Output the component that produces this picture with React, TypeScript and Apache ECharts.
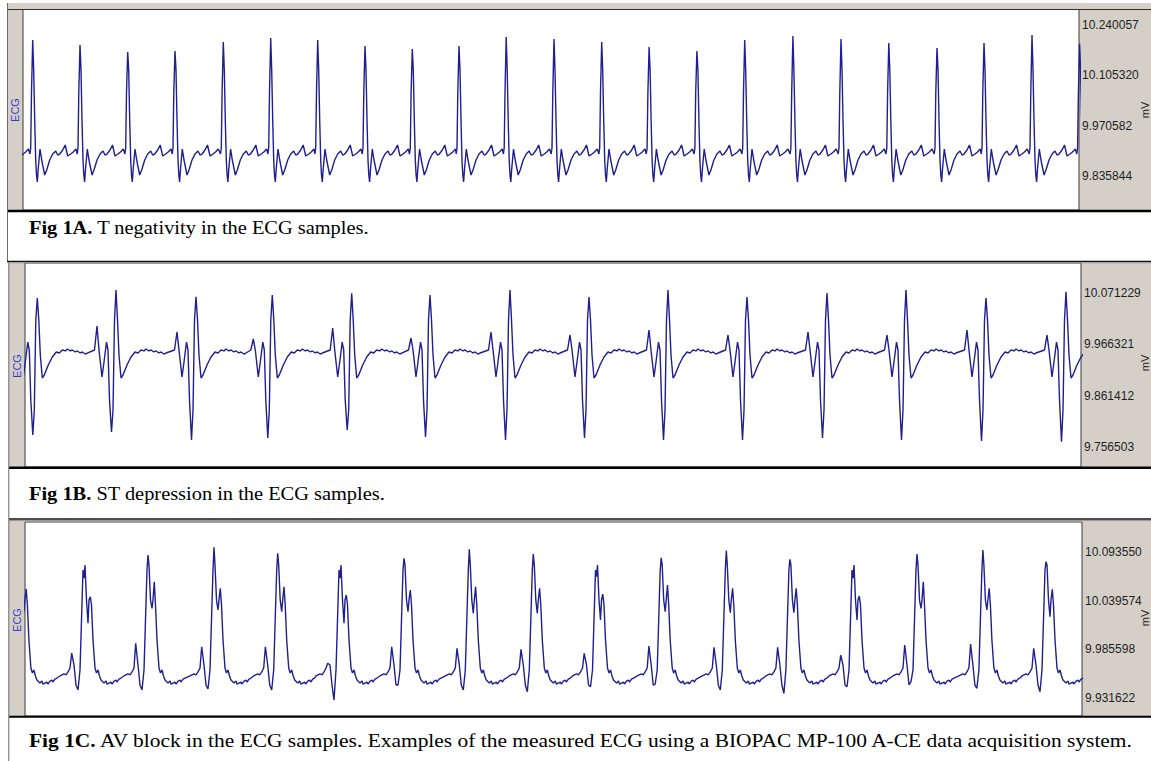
import React, { useEffect, useRef } from "react";
import * as echarts from "echarts";

const GRAY = "#d4d0c8";
const TRACE = "#1f1f90";
const SERIF = '"Liberation Serif", "Times New Roman", serif';
const SANS = '"Liberation Sans", Arial, sans-serif';

// ---------------- Fig 1A : T negativity ----------------
const tickLabelsA = [9.835844, 9.970582, 10.10532, 10.240057];
const yRangeA = [9.74483, 10.28155];
const xRangeA = [0, 1056];
// R-peak times (sample units)
const beatTimesA = [-37.8, 9.7, 57, 104.7, 152, 200.3, 247.7, 294.7, 342, 389.3, 436, 483.2, 531, 578.7, 626.1, 673.9, 721.7, 769.9, 818, 865.8, 914, 961, 1009, 1056.6];
const rPeaksA = [10.19, 10.1999, 10.1865, 10.1678, 10.1705, 10.1945, 10.2053, 10.1999, 10.1838, 10.1758, 10.1838, 10.2079, 10.2026, 10.1945, 10.1812, 10.1705, 10.1999, 10.2106, 10.2026, 10.1919, 10.1785, 10.1919, 10.2133, 10.19];
// one beat: [offset from R, mV] ("R" = per-beat peak)
const beatShapeA: Array<[number, number | string]> = [
  [-2.8, 9.8947], [-2, 9.9108], [-1.2, 10.06], [0, "R"], [1, 10.12], [2, 9.9857],
  [3, 9.8787], [3.8, 9.8385], [4.6, 9.8198], [5.6, 9.8572], [7.3, 9.9081], [9, 9.8787],
  [12, 9.8385], [14, 9.8519], [17, 9.8787], [20, 9.8947], [23, 9.9028], [25, 9.892],
  [27, 9.8947], [30, 9.9054], [32.5, 9.9188], [35, 9.8894], [38, 9.8947], [40.5, 9.9001], [43.3, 9.9081],
];

// ---------------- Fig 1B : ST depression ----------------
const tickLabelsB = [9.756503, 9.861412, 9.966321, 10.071229];
const yRangeB = [9.71485, 10.1334];
const xRangeB = [0, 1056];
const beatTimesB = [12.3, 91, 171, 247.3, 326.7, 405, 485, 564, 643, 722, 802, 881, 961, 1041];
const rPeaksB = [10.0616, 10.078, 10.0642, 10.0677, 10.0712, 10.0677, 10.078, 10.0636, 10.078, 10.0636, 10.0718, 10.078, 10.0616, 10.0745];
const sTroughsB = [9.7805, 9.7867, 9.7702, 9.7743, 9.7908, 9.7764, 9.7702, 9.7743, 9.7702, 9.7702, 9.7743, 9.7702, 9.7682, 9.7668];
const pPeaksB = [9.9959, 10.0041, 9.9918, 9.9775, 10.0, 9.9795, 9.9918, 9.9857, 9.9959, 9.9857, 9.9918, 9.9857, 9.9959, 9.9857];
const beatShapeB: Array<[number, number | string]> = [
  [-21.5, 9.9549], [-19, "P"], [-17, 9.9549], [-14, 9.8995], [-12, 9.9303], [-9.5, 9.9713],
  [-8, 9.9549], [-6.5, 9.8523], [-4.5, "S"], [-3, 9.8318], [-1.5, 10.0165], [0, "R"],
  [1.5, 10.0165], [3, 9.9446], [5, 9.8974], [7, 9.9036], [11, 9.9241], [15, 9.9405],
  [19, 9.9508], [22, 9.9488], [25, 9.9549], [28, 9.953], [30, 9.9569], [33, 9.9529], [35, 9.9549],
  [38, 9.9508], [40, 9.9529], [43, 9.9488], [45, 9.9508], [48, 9.9467], [50, 9.9487],
];

// ---------------- Fig 1C : AV block ----------------
const tickLabelsC = [9.931622, 9.985598, 10.039574, 10.09355];
const yRangeC = [9.91207, 10.12636];
const xRangeC = [0, 1057];
const beatTimesC = [-5.1, 59, 123, 189, 252.7, 315, 379, 444.3, 508.3, 571.5, 636.2, 701.3, 764.9, 828, 892, 957.9, 1021];
const r1PeaksC = [10.0678, 10.0642, 10.0899, 10.0984, 10.0918, 10.0642, 10.0863, 10.0962, 10.091, 10.0659, 10.0869, 10.0947, 10.0852, 10.0642, 10.091, 10.0954, 10.0825];
const r2PeaksC = [10.0523, 10.0438, 10.0604, 10.0531, 10.0549, 10.0457, 10.0512, 10.0549, 10.0531, 10.0468, 10.0568, 10.0531, 10.0531, 10.0446, 10.0604, 10.0531, 10.052];
const notchC = [10.0269, 10.0145, 10.031, 10.0292, 10.0273, 10.0145, 10.0273, 10.0255, 10.0255, 10.0181, 10.0273, 10.0262, 10.0262, 10.0181, 10.031, 10.0292, 10.0218];
const pPeaksC = [9.985, 9.9816, 9.9924, 9.9886, 9.9886, 9.9703, 9.9886, 9.9868, 9.9857, 9.9813, 9.9894, 9.9879, 9.9879, 9.9794, 9.9905, 9.9916, 9.9868];
const pDipsC = [9.9408, 9.9408, 9.9408, 9.9419, 9.9408, 9.9297, 9.9463, 9.9408, 9.9389, 9.9444, 9.9474, 9.9408, 9.9371, 9.9444, 9.95, 9.9427, 9.9389];
const beatShapeC: Array<[number, number | string]> = [
  [-24, 9.9563], [-22, 9.9574], [-20, 9.9585], [-18, 9.9574], [-16, 9.9607], [-14, 9.9651],
  [-12.3, "P"], [-10, 9.9684], [-8, 9.9463], [-6, "D"], [-4, 9.9629], [-2.5, 10.0181],
  [-1, 10.0733], [0, "R1"], [1, 10.0789], [2.5, 10.0402], [4, "N"], [5, 10.0402], [6.3, "R2"],
  [7.5, 10.0347], [9, 9.996], [11, 9.9651], [12.5, 9.9596], [14, 9.9629], [15.5, 9.9563],
  [17, 9.9518], [19, 9.9496], [20, 9.9485], [22, 9.9507], [23, 9.9474], [25, 9.9485],
  [27, 9.9496], [28, 9.9474], [30, 9.9507], [32, 9.9518], [33, 9.9496], [35, 9.9529], [37, 9.954],
];

function buildTrace(
  beats: number[],
  shape: Array<[number, number | string]>,
  vars: Record<string, number[]>
): number[][] {
  const pts: number[][] = [];
  beats.forEach((t, i) => {
    shape.forEach(([dx, v]) => {
      const val = typeof v === "string" ? vars[v][i] : v;
      pts.push([Math.round((t + dx) * 100) / 100, val]);
    });
  });
  pts.sort((a, b) => a[0] - b[0]);
  return pts;
}

const traceA = buildTrace(beatTimesA, beatShapeA, { R: rPeaksA });
const traceB = buildTrace(beatTimesB, beatShapeB, { R: rPeaksB, S: sTroughsB, P: pPeaksB });
const traceC = buildTrace(beatTimesC, beatShapeC, { R1: r1PeaksC, R2: r2PeaksC, N: notchC, P: pPeaksC, D: pDipsC });

const captions = [
  { bold: "Fig 1A.", rest: " T negativity in the ECG samples." },
  { bold: "Fig 1B.", rest: " ST depression in the ECG samples." },
  { bold: "Fig 1C.", rest: " AV block in the ECG samples. Examples of the measured ECG using a BIOPAC MP-100 A-CE data acquisition system." },
];

const panels = [
  { grid: { left: 23, top: 9.5, width: 1056, height: 200.5 }, xr: xRangeA, yr: yRangeA, ticks: tickLabelsA, data: traceA },
  { grid: { left: 25, top: 263, width: 1056, height: 204 }, xr: xRangeB, yr: yRangeB, ticks: tickLabelsB, data: traceB },
  { grid: { left: 25, top: 522, width: 1057, height: 194 }, xr: xRangeC, yr: yRangeC, ticks: tickLabelsC, data: traceC },
];

function rect(x: number, y: number, w: number, h: number, fill: string) {
  return { type: "rect", shape: { x, y, width: w, height: h }, style: { fill }, silent: true, z: -10 };
}
function hline(x1: number, x2: number, y: number, stroke: string, w: number) {
  return { type: "line", shape: { x1, y1: y, x2, y2: y }, style: { stroke, lineWidth: w }, silent: true, z: 20 };
}
function vline(x: number, y1: number, y2: number, stroke: string, w: number) {
  return { type: "line", shape: { x1: x, y1, x2: x, y2 }, style: { stroke, lineWidth: w }, silent: true, z: 20 };
}
function vtext(text: string, x: number, y: number, fill: string) {
  return {
    type: "text", x, y, rotation: Math.PI / 2, silent: true, z: 30,
    style: { text, fill, fontSize: 11, fontFamily: SANS, align: "center", verticalAlign: "middle", textAlign: "center", textVerticalAlign: "middle" },
  };
}
function caption(i: number, x: number, y: number, sx: number) {
  const c = captions[i];
  return {
    type: "text", x, y, scaleX: sx, silent: true, z: 30,
    style: {
      text: "{b|" + c.bold + "}" + c.rest,
      fill: "#000", fontSize: 19.5, fontFamily: SERIF,
      align: "left", verticalAlign: "middle", textAlign: "left", textVerticalAlign: "middle",
      rich: { b: { fontWeight: "bold", fontSize: 19.5, fontFamily: SERIF, fill: "#000" } },
    },
  };
}

const graphics = [
  // Panel A frame
  rect(7, 3, 1144, 6.5, GRAY),
  rect(7, 10, 16, 200, GRAY),
  rect(1079, 10, 72, 200, GRAY),
  hline(7, 1151, 9.5, "#303030", 1),
  hline(7, 1151, 211, "#000", 2.5),
  vline(7.5, 3, 261, "#6a6a6a", 1),
  // separator A/B
  hline(7, 1151, 261.5, "#111", 1.5),
  hline(9, 1151, 262.8, "#9a9a9a", 1),
  // Panel B frame
  rect(9, 263, 16, 204, GRAY),
  rect(1081, 263, 70, 204, GRAY),
  hline(9, 1151, 467.8, "#000", 2.5),
  vline(8.8, 262, 519, "#6a6a6a", 1),
  // separator B/C
  hline(9, 1151, 519, "#111", 1.5),
  hline(9, 1151, 520.8, "#9a9a9a", 1.5),
  // Panel C frame
  rect(9, 522, 16, 194, GRAY),
  rect(1082, 522, 69, 194, GRAY),
  hline(9, 1151, 716.8, "#000", 2),
  vline(8.8, 519, 761, "#6a6a6a", 1),
  // axis titles
  vtext("ECG", 15, 110, "#3a3ac8"),
  vtext("ECG", 17, 366, "#3a3ac8"),
  vtext("ECG", 17, 620, "#3a3ac8"),
  vtext("mV", 1144.5, 110, "#222"),
  vtext("mV", 1144.5, 363, "#222"),
  vtext("mV", 1144.5, 618, "#222"),
  // captions
  caption(0, 29, 227, 1.046),
  caption(1, 29, 493, 1.046),
  caption(2, 29, 740, 1.1),
];

export default function App() {
  const ref = useRef<HTMLDivElement>(null);
  useEffect(() => {
    if (!ref.current) return;
    const chart = echarts.init(ref.current, undefined, { renderer: "svg" });
    chart.setOption({
      animation: false,
      backgroundColor: "#fff",
      grid: panels.map((p) => ({ ...p.grid, show: true, backgroundColor: "#fff", borderColor: "#3a3a3a", borderWidth: 1, containLabel: false })),
      xAxis: panels.map((p, i) => ({ type: "value", gridIndex: i, min: p.xr[0], max: p.xr[1], show: false })),
      yAxis: panels.map((p, i) => ({
        type: "value", gridIndex: i, position: "right", min: p.yr[0], max: p.yr[1], scale: true, z: 40,
        axisLine: { show: false }, axisTick: { show: false }, splitLine: { show: false },
        axisLabel: {
          show: true, showMinLabel: true, showMaxLabel: true,
          customValues: p.ticks, formatter: (v: number) => Number(v).toFixed(6), margin: 3,
          color: "#1e1e1e", fontSize: 12, fontFamily: SANS,
        },
      })),
      series: panels.map((p, i) => ({
        type: "line", xAxisIndex: i, yAxisIndex: i, data: p.data, showSymbol: false, symbol: "none",
        lineStyle: { color: TRACE, width: 1.4 }, clip: true, silent: true, z: 5,
      })),
      graphic: { elements: graphics },
    });
    return () => chart.dispose();
  }, []);
  return <div ref={ref} style={{ position: "absolute", left: 0, top: 0, width: 1151, height: 761, background: "#fff" }} />;
}
